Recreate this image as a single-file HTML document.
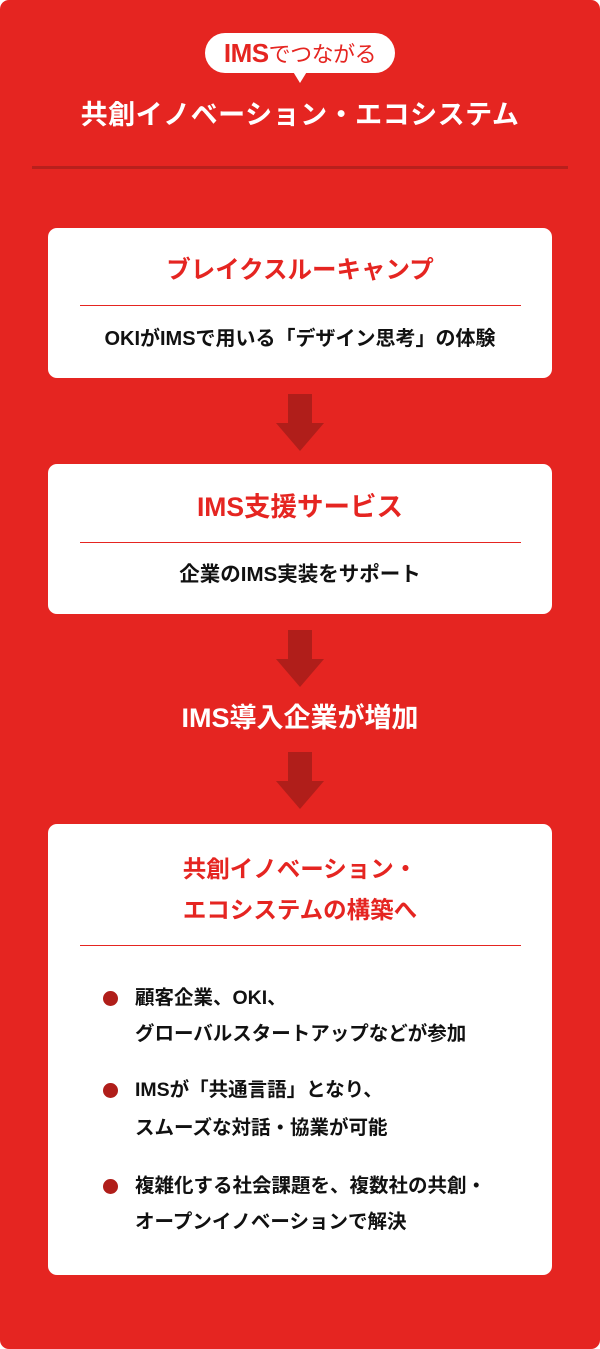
<!DOCTYPE html>
<html><head><meta charset="utf-8"><style>
*{margin:0;padding:0;box-sizing:border-box}
body{width:600px;height:1349px;background:#fff;font-family:"Liberation Sans","Noto Sans CJK JP",sans-serif;font-weight:bold;position:relative;overflow:hidden}
.bg{position:absolute;left:0;top:0;width:600px;height:1349px;background:#e52521;border-radius:9px}
.a{position:absolute}
.c{position:absolute;left:0;width:600px;text-align:center;white-space:nowrap}
.box{position:absolute;left:48px;width:504px;background:#fff;border-radius:9px}
.rl{position:absolute;left:80px;width:441px;height:1px;background:#e52521}
.red{color:#e52521}
.blk{color:#111}
.dot{position:absolute;left:103px;width:15px;height:15px;border-radius:50%;background:#b01e1a}
.bt{position:absolute;left:135px;font-size:19.5px;color:#111;white-space:nowrap;line-height:24px}
</style></head><body>
<div class="bg"></div>
<div class="a" style="left:205px;top:33px;width:190px;height:40px;background:#fff;border-radius:20px"></div>
<svg class="a" style="left:290px;top:70px" width="20" height="15"><polygon points="2,0 18,0 10,13" fill="#fff"/></svg>
<div class="c red" style="top:36px;font-size:26px;line-height:34px;letter-spacing:-0.5px">IMS<span style="font-size:22px;font-weight:normal">でつながる</span></div>
<div class="c" style="top:97px;font-size:27px;line-height:36px;color:#fff;letter-spacing:0.5px">共創イノベーション・エコシステム</div>
<div class="a" style="left:32px;top:166px;width:536px;height:3px;background:#b8201c"></div>

<div class="box" style="top:228px;height:150px"></div>
<div class="c red" style="top:255px;font-size:24.5px;line-height:32px">ブレイクスルーキャンプ</div>
<div class="rl" style="top:305px"></div>
<div class="c blk" style="top:326px;font-size:20px;line-height:26px">OKIがIMSで用いる「デザイン思考」の体験</div>

<svg class="a" style="left:276px;top:394px" width="48" height="58"><path d="M12 0H36V29H48L24 57L0 29H12Z" fill="#b01e1a"/></svg>

<div class="box" style="top:464px;height:150px"></div>
<div class="c red" style="top:490px;font-size:26.5px;line-height:34px">IMS支援サービス</div>
<div class="rl" style="top:542px"></div>
<div class="c blk" style="top:562px;font-size:20.5px;line-height:26px">企業のIMS実装をサポート</div>

<svg class="a" style="left:276px;top:630px" width="48" height="58"><path d="M12 0H36V29H48L24 57L0 29H12Z" fill="#b01e1a"/></svg>
<div class="c" style="top:700px;font-size:27px;line-height:36px;color:#fff">IMS導入企業が増加</div>
<svg class="a" style="left:276px;top:752px" width="48" height="58"><path d="M12 0H36V29H48L24 57L0 29H12Z" fill="#b01e1a"/></svg>

<div class="box" style="top:824px;height:451px"></div>
<div class="c red" style="top:849px;font-size:23.5px;line-height:41px">共創イノベーション・<br>エコシステムの構築へ</div>
<div class="rl" style="top:945px"></div>
<div class="dot" style="top:991px"></div>
<div class="bt" style="top:986px">顧客企業、OKI、</div>
<div class="bt" style="top:1022px">グローバルスタートアップなどが参加</div>
<div class="dot" style="top:1083px"></div>
<div class="bt" style="top:1078px">IMSが「共通言語」となり、</div>
<div class="bt" style="top:1116px">スムーズな対話・協業が可能</div>
<div class="dot" style="top:1179px"></div>
<div class="bt" style="top:1174px">複雑化する社会課題を、複数社の共創・</div>
<div class="bt" style="top:1210px">オープンイノベーションで解決</div>
</body></html>
